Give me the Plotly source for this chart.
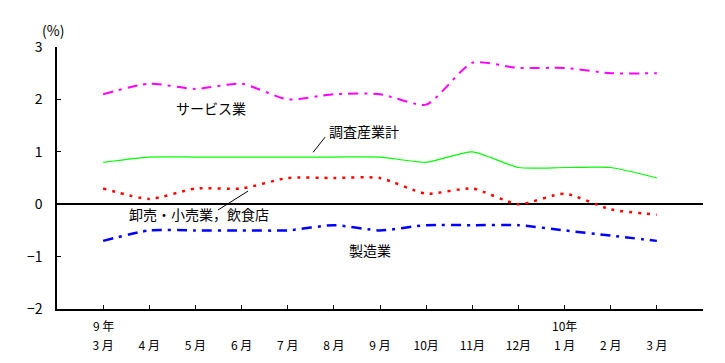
import plotly.graph_objects as go

months = ["3 月", "4 月", "5 月", "6 月", "7 月", "8 月", "9 月",
          "10月", "11月", "12月", "1 月", "2 月", "3 月"]
year_labels = {0: "9 年", 10: "10年"}

service = [2.1, 2.3, 2.2, 2.3, 2.0, 2.1, 2.1, 1.9, 2.7, 2.6, 2.6, 2.5, 2.5]
total = [0.8, 0.9, 0.9, 0.9, 0.9, 0.9, 0.9, 0.8, 1.0, 0.7, 0.7, 0.7, 0.5]
retail = [0.3, 0.1, 0.3, 0.3, 0.5, 0.5, 0.5, 0.2, 0.3, 0.0, 0.2, -0.1, -0.2]
manuf = [-0.7, -0.5, -0.5, -0.5, -0.5, -0.4, -0.5, -0.4, -0.4, -0.4, -0.5, -0.6, -0.7]

xs = list(range(len(months)))
JP = "Noto Sans CJK JP"

fig = go.Figure()
fig.add_trace(go.Scatter(x=xs, y=total, mode="lines", name="調査産業計",
                         line=dict(color="#00FF00", width=1.2, shape="spline", smoothing=0.6)))
fig.add_trace(go.Scatter(x=xs, y=service, mode="lines", name="サービス業",
                         line=dict(color="#FF00FF", width=2, dash="10px,6px,3px,6px",
                                   shape="spline", smoothing=0.6)))
fig.add_trace(go.Scatter(x=xs, y=retail, mode="lines", name="卸売・小売業，飲食店",
                         line=dict(color="#FF0000", width=2.5, dash="3px,6px",
                                   shape="spline", smoothing=0.6)))
fig.add_trace(go.Scatter(x=xs, y=manuf, mode="lines", name="製造業",
                         line=dict(color="#0000FF", width=2.5, dash="10px,6px,3px,6px",
                                   shape="spline", smoothing=0.6)))

labels = [
    ("サービス業", 2.34, 1.83),
    ("調査産業計", 5.65, 1.39),
    ("卸売・小売業，飲食店", 2.08, -0.19),
    ("製造業", 5.78, -0.88),
]
for txt, lx, ly in labels:
    fig.add_annotation(x=lx, y=ly, text=txt, showarrow=False,
                       font=dict(family=JP, size=14, color="black"))

# leader lines
fig.add_shape(type="line", x0=4.55, y0=0.99, x1=4.81, y1=1.28,
              line=dict(color="black", width=1))
fig.add_shape(type="line", x0=2.49, y0=-0.11, x1=3.14, y1=0.25,
              line=dict(color="black", width=1))

for i, t in year_labels.items():
    fig.add_annotation(x=i, y=0, yref="paper", text=t, showarrow=False,
                       yanchor="middle", yshift=-16,
                       font=dict(family=JP, size=12, color="black"))

fig.add_annotation(x=0, y=1, xref="paper", yref="paper", text="(%)",
                   showarrow=False, xshift=-17, yshift=29,
                   font=dict(family=JP, size=14, color="black"))

fig.update_layout(
    width=725, height=363,
    margin=dict(l=57, r=22, t=47, b=54, autoexpand=False),
    paper_bgcolor="white", plot_bgcolor="white",
    showlegend=False,
    font=dict(family=JP, size=12, color="black"),
)
fig.update_xaxes(range=[-1, 13], tickvals=xs, ticktext=months,
                 showgrid=False, zeroline=False, showline=True,
                 linecolor="black", linewidth=1.5,
                 ticks="inside", ticklen=4, tickcolor="black",
                 ticklabelstandoff=25, automargin=False,
                 tickfont=dict(family=JP, size=12))
fig.update_yaxes(range=[-2, 3], tickvals=[-2, -1, 0, 1, 2, 3],
                 showgrid=False, zeroline=True, zerolinecolor="black",
                 zerolinewidth=1.5, showline=True,
                 linecolor="black", linewidth=1.5,
                 ticks="inside", ticklen=4, tickcolor="black",
                 ticklabelstandoff=10, automargin=False,
                 tickfont=dict(family=JP, size=14))

fig.write_html("out.html", config={"displayModeBar": False},
               post_script="document.body.style.margin='0px';document.body.style.padding='0px';")
